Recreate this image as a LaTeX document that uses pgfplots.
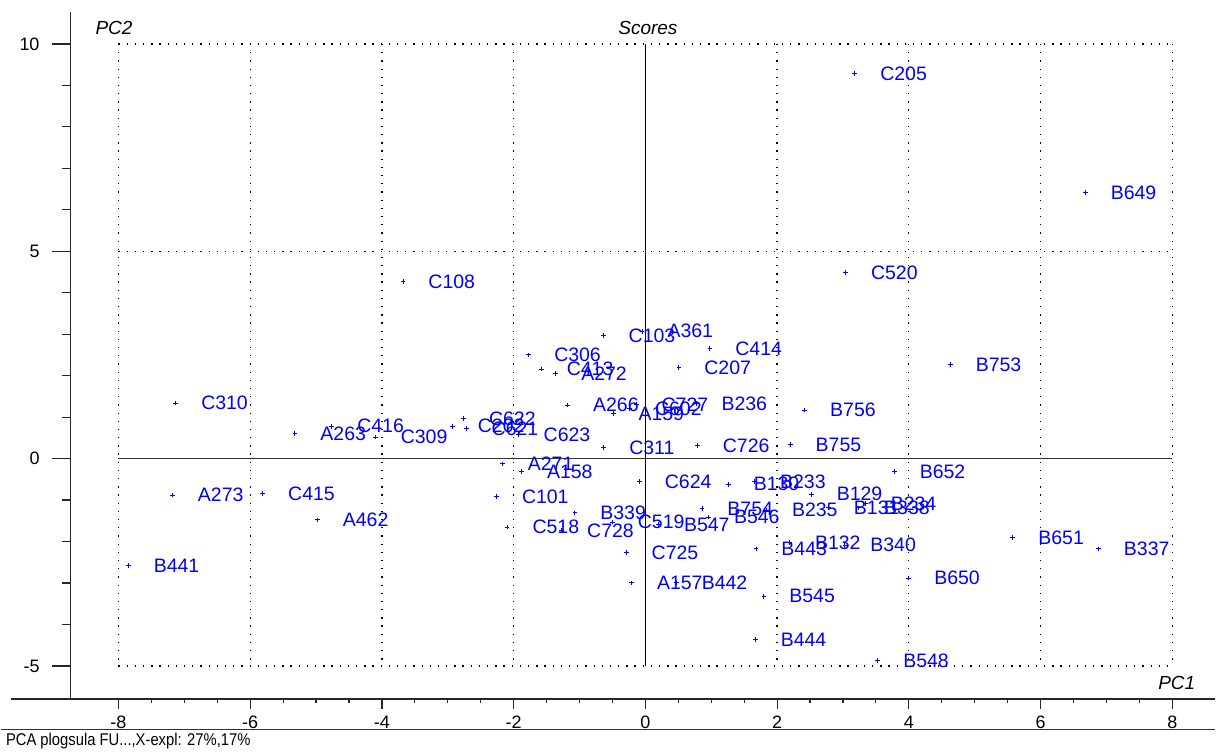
\documentclass[border=0pt]{standalone}
\usepackage{fontspec}
\setmainfont{Liberation Sans}
\usepackage{pgfplots}
\usepackage{pgfplotstable}
\pgfplotsset{compat=1.18}
\definecolor{scoreblue}{RGB}{0,0,255}

% PCA scores: PC1, PC2 and sample name
\pgfplotstableread{
x y label
3.18 9.28 C205
6.68 6.41 B649
3.04 4.49 C520
-3.68 4.27 C108
-0.64 2.96 C103
-0.05 3.07 A361
0.98 2.65 C414
0.51 2.20 C207
-1.77 2.50 C306
-1.58 2.16 C413
-1.36 2.05 A272
4.63 2.27 B753
-7.13 1.34 C310
-1.18 1.29 A266
-0.49 1.09 A159
-0.24 1.20 C602
-0.14 1.30 C727
0.77 1.33 B236
2.42 1.17 B756
-5.32 0.60 A263
-4.76 0.78 C416
-4.10 0.52 C309
-2.93 0.78 C202
-2.76 0.96 C622
-2.72 0.73 C621
-1.93 0.58 C623
-0.63 0.26 C311
0.79 0.31 C726
2.20 0.34 B755
-2.17 -0.13 A271
-1.88 -0.31 A158
-0.09 -0.56 C624
1.26 -0.62 B130
1.66 -0.55 B233
3.78 -0.32 B652
2.52 -0.86 B129
-7.18 -0.88 A273
-5.81 -0.85 C415
-4.98 -1.48 A462
-2.26 -0.91 C101
-1.07 -1.31 B339
-2.10 -1.65 C518
-1.27 -1.73 C728
-0.50 -1.53 C519
0.20 -1.59 B547
0.86 -1.21 B754
0.96 -1.41 B546
1.84 -1.24 B235
2.78 -1.18 B131
3.24 -1.19 B338
3.34 -1.09 B234
-0.29 -2.27 C725
-0.21 -3.00 A157
0.47 -3.00 B442
1.68 -2.18 B443
2.19 -2.03 B132
3.03 -2.09 B340
5.58 -1.91 B651
6.88 -2.18 B337
4.00 -2.88 B650
1.80 -3.32 B545
1.67 -4.37 B444
3.53 -4.87 B548
-7.85 -2.58 B441
}\scores

\begin{document}
\begin{tikzpicture}
\begin{axis}[
  scale only axis,
  width=573pt, height=343.75pt,
  xmin=-8.728, xmax=8.652,
  ymin=-5.791, ymax=10.771,
  axis x line=bottom, axis y line=left,
  axis line style={-, line width=0.8pt, black!85},
  xtick={-8,-6,...,8},
  ytick={-5,0,5,10},
  minor xtick={-7.5,-7,...,7.5},
  tick align=outside,
  major tick length=5pt, minor tick length=2pt,
  tick style={line width=0.6pt, black!85},
  /pgf/number format/assume math mode=true,
  ticklabel style={font=\fontsize{9}{10}\selectfont},
  xticklabel style={yshift=0pt},
  yticklabel style={xshift=-7pt},
  clip=false,
]
  % dotted reference grid over the plotted range
  \pgfplotsinvokeforeach{-8,-6,-4,-2,2,4,6,8}{
    \draw[black, line width=0.65pt, dash pattern=on 0.65pt off 3.45pt]
      (axis cs:#1,10) -- (axis cs:#1,-5);
  }
  \pgfplotsinvokeforeach{10,5,-5}{
    \draw[black, line width=0.65pt, dash pattern=on 0.65pt off 3.45pt]
      (axis cs:-8,#1) -- (axis cs:8,#1);
  }
  % longer major and minor ticks on the PC2 axis
  \pgfplotsinvokeforeach{10,5,0,-5}{
    \draw[line width=0.6pt, black!85] (axis cs:-8.728,#1) -- ++(-9.5pt,0pt);
  }
  \pgfplotsinvokeforeach{-4,-3,-2,-1,1,2,3,4,6,7,8,9}{
    \draw[line width=0.6pt, black!85] (axis cs:-8.728,#1) -- ++(-4.5pt,0pt);
  }
  % origin cross
  \draw[black!80, line width=0.9pt] (axis cs:-8,0) -- (axis cs:8,0);
  \draw[black, line width=0.65pt] (axis cs:0,-5) -- (axis cs:0,10);

  \addplot[only marks, mark=+, mark size=1.2pt, scoreblue,
    mark options={line width=0.5pt},
    nodes near coords, point meta=explicit symbolic,
    nodes near coords style={anchor=west, inner sep=0pt, xshift=12.5pt,
      font=\fontsize{9.75}{11}\selectfont, text=scoreblue}]
    table[x=x, y=y, meta=label] {\scores};

  % axis titles
  \node[anchor=west, font=\fontsize{9.5}{11}\selectfont\itshape]
    at (rel axis cs:0.0157,0.9767) {PC2};
  \node[font=\fontsize{9.5}{11}\selectfont\itshape]
    at (rel axis cs:0.5044,0.9767) {Scores};
  \node[anchor=east, font=\fontsize{9.5}{11}\selectfont\itshape]
    at (rel axis cs:0.9887,0.0225) {PC1};

  % base line extension, footer rule and caption
  \draw[line width=0.8pt, black!85] (rel axis cs:-0.05236,0) -- (rel axis cs:0,0);
  \draw[line width=0.6pt, black!80] (rel axis cs:-0.0611,-0.04436) -- (rel axis cs:1,-0.04436);
  \node[anchor=west, inner sep=0pt] at (rel axis cs:-0.0567,-0.0618)
    {\scalebox{0.87}[1]{\fontsize{8.5}{10}\selectfont PCA plogsula FU...,X-expl: 27\%,17\%}};

  % page extent
  \path (rel axis cs:-0.06108,-0.07927) rectangle (rel axis cs:1,1.01745);
\end{axis}
\end{tikzpicture}
\end{document}
